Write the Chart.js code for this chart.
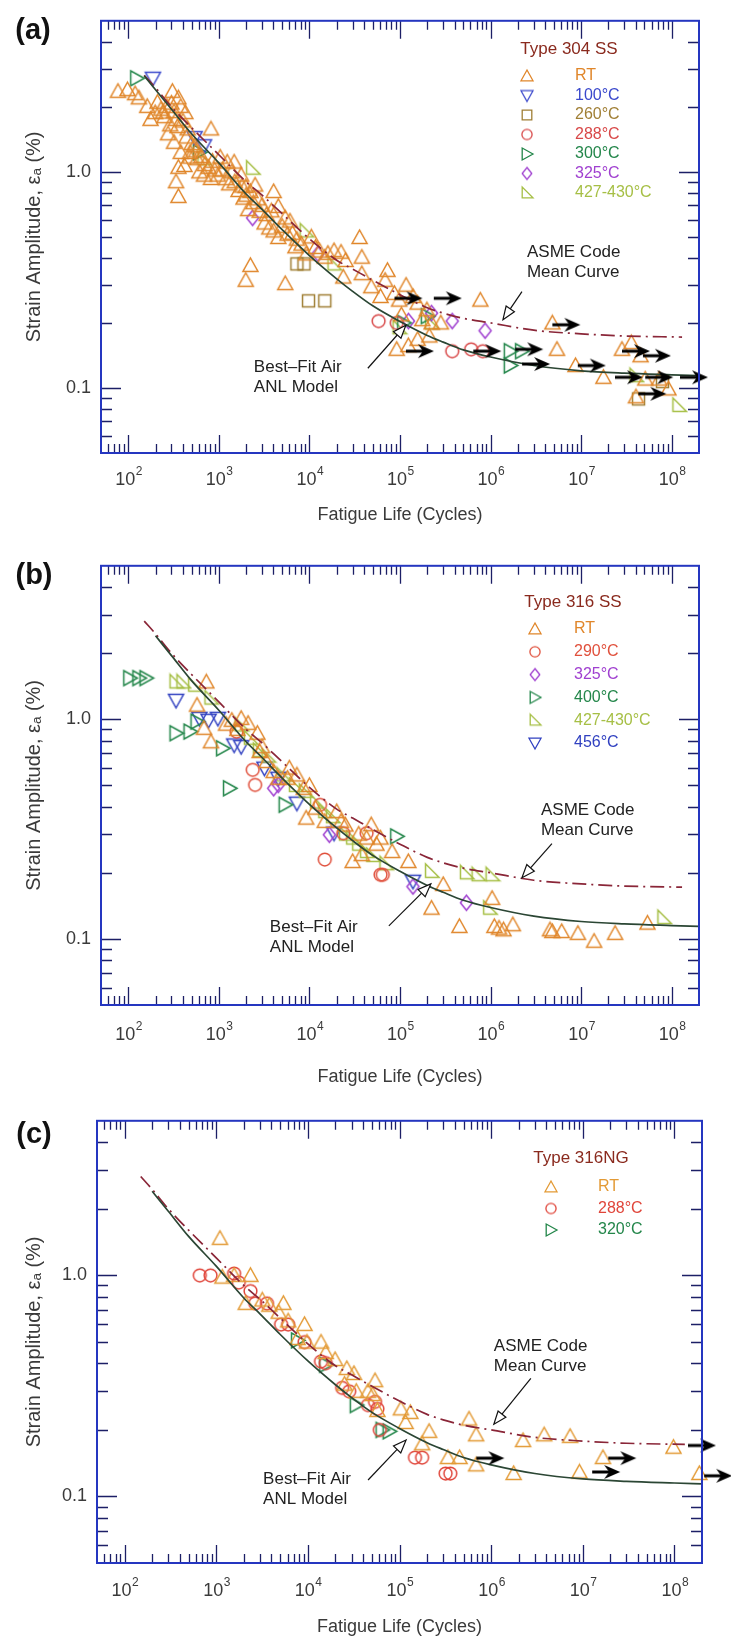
<!DOCTYPE html>
<html>
<head>
<meta charset="utf-8">
<title>Fatigue life of austenitic stainless steels</title>
<script src="https://cdn.jsdelivr.net/npm/chart.js@4.4.1/dist/chart.umd.min.js"></script>
<style>
  html, body { margin: 0; padding: 0; background: #fff; }
  body { position: relative; width: 731px; height: 1644px; overflow: hidden; }
  canvas { position: absolute; left: 0; }
</style>
</head>
<body>
<canvas id="panelA" width="731" height="535" style="top:0px"></canvas>
<canvas id="panelB" width="731" height="560" style="top:545px"></canvas>
<canvas id="panelC" width="731" height="544" style="top:1100px"></canvas>
<script>
// axes
const xRange = [50, 2e8];
const yRange = [0.05, 5];
const xTickValues = [1e2, 1e3, 1e4, 1e5, 1e6, 1e7, 1e8];
const xTickBase = '10';
const xTickPowers = ['2', '3', '4', '5', '6', '7', '8'];
const yTickValues = [0.1, 1];
const yTickLabels = ['0.1', '1.0'];

// curves [N, strain %]
const bestFitCurve = [[150,2.78],[200,2.4],[300,1.95],[500,1.5],[1000,1.1],[2000,0.79],[3000,0.67],[5000,0.54],[1e4,0.41],[2e4,0.32],[3e4,0.28],[5e4,0.24],[1e5,0.203],[2e5,0.175],[3e5,0.163],[5e5,0.15],[1e6,0.139],[3e6,0.127],[1e7,0.12],[3e7,0.117],[1e8,0.115],[2e8,0.114]];
const asmeMeanCurve = [[150,2.8],[200,2.45],[300,2.0],[500,1.6],[1000,1.2],[2000,0.9],[3000,0.78],[5000,0.64],[1e4,0.49],[2e4,0.39],[3e4,0.355],[5e4,0.315],[1e5,0.27],[2e5,0.235],[3e5,0.222],[5e5,0.21],[1e6,0.2],[3e6,0.185],[1e7,0.178],[3e7,0.174],[1.3e8,0.172]];

// (a) Type 304 SS
const a_RT = [[77,2.36],[98,2.40],[119,2.30],[131,2.20],[162,2.01],[198,1.88],[176,1.75],[242,1.89],[267,2.01],[300,2.08],[307,2.36],[358,2.20],[380,2.01],[427,1.88],[337,1.75],[402,1.72],[453,1.58],[275,1.50],[320,1.37],[380,1.23],[481,1.17],[417,1.07],[358,1.05],[481,1.23],[541,1.32],[574,1.15],[337,0.90],[358,0.77],[609,1.0],[685,0.966],[818,0.932],[977,0.966],[818,1.58],[771,1.05],[1036,1.17],[1237,1.11],[1392,1.0],[1476,1.11],[1762,0.966],[1983,0.855],[2232,0.811],[2512,0.869],[1870,0.756],[2102,0.669],[2826,0.657],[3373,0.634],[4027,0.811],[4529,0.692],[5408,0.612],[4027,0.533],[4529,0.497],[5741,0.515],[7278,0.488],[6095,0.592],[8185,0.463],[9204,0.417],[11660,0.447],[14770,0.403],[18700,0.432],[22340,0.425],[25100,0.389],[35800,0.497],[37930,0.403],[23660,0.326],[37930,0.338],[48100,0.294],[60950,0.265],[68500,0.315],[86800,0.274],[97700,0.255],[116700,0.299],[139300,0.265],[156700,0.247],[176300,0.207],[198300,0.230],[223200,0.200],[282400,0.200],[2232,0.369],[1983,0.315],[5408,0.304],[72750,0.350],[103600,0.218],[92000,0.151],[123700,0.157],[156700,0.168],[210400,0.174],[771000,0.255],[4.81e6,0.200],[5.41e6,0.151],[8.67e6,0.127],[1.76e7,0.112],[2.82e7,0.151],[3.58e7,0.162],[4.53e7,0.141],[5.1e7,0.110],[4.03e7,0.091],[7.27e7,0.110],[9.2e7,0.099],
  [210,2.1],[230,1.95],[250,1.8],[290,1.65],[320,1.9],[350,1.62],[440,1.45],[500,1.35],[560,1.25],[640,1.18],[700,1.08],[850,1.12],[900,1.02],[1100,1.02],[1200,0.93],[1300,0.88],[1500,0.9],[1650,0.82],[1800,0.86],[2000,0.78],[2400,0.72],[2700,0.75],[3000,0.7],[3200,0.58],[3600,0.55],[3800,0.66],[5000,0.56],[6500,0.52],[7000,0.45],[10500,0.5],[13000,0.43],[16000,0.42]];
const a_100C = [[187,2.71],[541,1.44],[685,1.32]];
const a_260C = [[9770,0.253],[14770,0.253],[7278,0.375],[8700,0.375],[4.3e7,0.089],[7.9e7,0.107]];
const a_288C = [[58000,0.204],[92000,0.200],[377000,0.148],[610000,0.151],[820000,0.148]];
const a_300C = [[124,2.71],[609,1.23],[110000,0.200],[200000,0.215],[1.65e6,0.148],[1.65e6,0.127],[2.2e6,0.148]];
const a_325C = [[2360,0.612],[12400,0.417],[124000,0.204],[223000,0.222],[377000,0.204],[870000,0.184]];
const a_427C = [[685,1.15],[2360,1.04],[9200,0.533],[18700,0.375],[97700,0.190],[223000,0.200],[4.03e7,0.114],[1.2e8,0.083]];
const a_runout = [[1.24e5,0.260],[3.37e5,0.260],[6.86e6,0.196],[1.66e5,0.148],[9.2e5,0.148],[2.67e6,0.151],[3.18e6,0.129],[1.31e7,0.127],[3.37e7,0.112],[7.27e7,0.112],[1.76e8,0.112],[4.03e7,0.148],[6.86e7,0.141],[6.1e7,0.094]];

// (b) Type 316 SS
const b_RT = [[728,1.48],[574,1.16],[685,0.91],[818,0.79],[1392,0.99],[1762,1.01],[2102,0.959],[2665,0.864],[2826,0.713],[3373,0.642],[4027,0.578],[4529,0.539],[5741,0.539],[7278,0.558],[8670,0.485],[9204,0.355],[11660,0.394],[14770,0.343],[22340,0.343],[30000,0.225],[37930,0.242],[42800,0.288],[48100,0.331],[61000,0.288],[81800,0.250],[123700,0.225],[223000,0.138],[300000,0.177],[453000,0.114],[1.04e6,0.153],[1.1e6,0.114],[1.24e6,0.112],[1.39e6,0.110],[1.76e6,0.116],[4.53e6,0.110],[4.81e6,0.108],[6.1e6,0.108],[9.2e6,0.106],[1.39e7,0.0976],[2.37e7,0.106],[5.4e7,0.118],
  [1200,0.95],[1600,0.9],[3000,0.75],[6000,0.6],[10000,0.5],[20000,0.38],[25000,0.33],[35000,0.3],[55000,0.27]];
const b_290C = [[1567,0.879],[2366,0.589],[2512,0.503],[13100,0.408],[14770,0.230],[23660,0.303],[42800,0.303],[61000,0.196],[64600,0.196]];
const b_325C = [[4027,0.485],[4529,0.503],[16600,0.298],[139000,0.173],[541000,0.146]];
const b_400C = [[104,1.54],[131,1.54],[157,1.54],[337,0.864],[481,0.879],[574,0.976],[1100,0.738],[1312,0.485],[5400,0.408],[92000,0.293]];
const b_427C = [[337,1.48],[402,1.48],[541,1.43],[818,1.25],[1762,0.942],[2232,0.82],[5100,0.558],[14770,0.380],[30000,0.288],[42800,0.250],[223000,0.203],[541000,0.200],[728000,0.196],[1.04e6,0.196],[977000,0.138],[8.2e7,0.125],
  [2800,0.72],[3500,0.68],[7000,0.5],[9000,0.47],[12000,0.42],[18000,0.36],[25000,0.3],[35000,0.27],[50000,0.24],[70000,0.22]];
const b_456C = [[337,1.22],[609,1.01],[771,0.99],[977,1.01],[1476,0.764],[1762,0.751],[3183,0.599],[4529,0.539],[7278,0.415],[18700,0.303],[139000,0.183]];

// (c) Type 316NG
const c_RT = [[1099,1.47],[1166,0.982],[1567,1.0],[2366,1.0],[2102,0.747],[3183,0.774],[3795,0.733],[4808,0.681],[5408,0.747],[6095,0.622],[9204,0.6],[7712,0.518],[9772,0.499],[13930,0.499],[15670,0.448],[19830,0.416],[26650,0.379],[31830,0.36],[25120,0.322],[33750,0.299],[45300,0.299],[54100,0.334],[51030,0.289],[57400,0.245],[103600,0.249],[131300,0.240],[116700,0.216],[210400,0.197],[176300,0.173],[337300,0.150],[452600,0.150],[573800,0.224],[685000,0.19],[685000,0.139],[1.76e6,0.127],[2.23e6,0.179],[3.79e6,0.19],[7.27e6,0.187],[9.2e6,0.129],[1.66e7,0.150],[9.77e7,0.167],[1.87e8,0.127]];
const c_288C = [[662,1.0],[867,1.0],[1567,1.02],[1762,0.929],[2366,0.849],[2665,0.747],[3581,0.747],[5100,0.6],[6095,0.6],[9204,0.499],[13930,0.408],[15670,0.401],[23660,0.31],[28250,0.299],[45300,0.259],[54100,0.268],[57400,0.249],[60950,0.2],[147600,0.150],[176300,0.150],[318400,0.127],[358000,0.127]];
const c_320C = [[7712,0.508],[15670,0.394],[33750,0.259],[64600,0.2],[77100,0.197]];
const c_runout = [[9.8e5,0.149],[2.7e7,0.149],[1.8e7,0.129],[2e8,0.170],[3e8,0.124]];

const FONT = '"Liberation Sans", Arial, sans-serif';
const TEXT = '#3a3a3a';
Chart.defaults.font.family = FONT;
Chart.defaults.color = TEXT;

// hollow marker sprites
function marker(shape, color, s, lw) {
  const c = document.createElement('canvas');
  const arrow = shape === 'arrow';
  c.width = arrow ? 30 : s + 4;
  c.height = arrow ? 16 : s + 4;
  const g = c.getContext('2d');
  const cx = c.width / 2, cy = c.height / 2, r = s / 2;
  g.strokeStyle = color; g.fillStyle = color; g.lineWidth = lw || 1.5;
  g.beginPath();
  if (shape === 'tri') { g.moveTo(cx, cy - r); g.lineTo(cx + r, cy + r * 0.8); g.lineTo(cx - r, cy + r * 0.8); g.closePath(); }
  else if (shape === 'triDown') { g.moveTo(cx, cy + r); g.lineTo(cx + r, cy - r * 0.8); g.lineTo(cx - r, cy - r * 0.8); g.closePath(); }
  else if (shape === 'triRight') { g.moveTo(cx + r, cy); g.lineTo(cx - r * 0.8, cy - r); g.lineTo(cx - r * 0.8, cy + r); g.closePath(); }
  else if (shape === 'corner') { g.moveTo(cx - r * 0.8, cy - r); g.lineTo(cx - r * 0.8, cy + r * 0.8); g.lineTo(cx + r, cy + r * 0.8); g.closePath(); }
  else if (shape === 'circle') { g.arc(cx, cy, r * 0.85, 0, Math.PI * 2); }
  else if (shape === 'square') { g.rect(cx - r * 0.8, cy - r * 0.8, r * 1.6, r * 1.6); }
  else if (shape === 'diamond') { g.moveTo(cx, cy - r); g.lineTo(cx + r * 0.8, cy); g.lineTo(cx, cy + r); g.lineTo(cx - r * 0.8, cy); g.closePath(); }
  if (arrow) {
    g.lineWidth = 3; g.moveTo(1, cy); g.lineTo(18, cy); g.stroke();
    g.beginPath(); g.moveTo(29, cy); g.lineTo(13, 1); g.lineTo(18, cy); g.lineTo(13, 15); g.closePath(); g.fill();
  } else {
    g.stroke();
  }
  return c;
}
const ARROW = marker('arrow', '#000', 0);

const decor = {
  id: 'decor',
  afterDatasetsDraw(chart, args, opt) {
    const { ctx, chartArea: a } = chart;
    const sx = chart.scales.x, sy = chart.scales.y;
    ctx.save();
    ctx.strokeStyle = '#1c1f66'; ctx.lineWidth = 1.3;
    ctx.beginPath();
    for (let e = 1; e <= 8; e++) for (let k = 1; k <= 9; k++) {
      const v = k * Math.pow(10, e);
      if (v <= xRange[0] * 1.001 || v >= xRange[1] * 0.999) continue;
      const p = Math.round(sx.getPixelForValue(v)) + 0.5;
      const len = k === 1 ? 18 : 9;
      ctx.moveTo(p, a.bottom); ctx.lineTo(p, a.bottom - len);
      ctx.moveTo(p, a.top); ctx.lineTo(p, a.top + len);
    }
    for (let e = -2; e <= 0; e++) for (let k = 1; k <= 9; k++) {
      const v = k * Math.pow(10, e);
      if (v <= yRange[0] * 1.001 || v >= yRange[1] * 0.999) continue;
      const p = Math.round(sy.getPixelForValue(v)) + 0.5;
      const len = k === 1 ? 20 : 11;
      ctx.moveTo(a.left, p); ctx.lineTo(a.left + len, p);
      ctx.moveTo(a.right, p); ctx.lineTo(a.right - len, p);
    }
    ctx.stroke();
    ctx.strokeStyle = '#2536c0'; ctx.lineWidth = 2;
    ctx.strokeRect(a.left, a.top, a.right - a.left, a.bottom - a.top);

    // exponents next to the "10" tick labels
    ctx.fillStyle = TEXT; ctx.font = '12px ' + FONT;
    ctx.textAlign = 'left'; ctx.textBaseline = 'middle';
    const labelMid = a.bottom + opt.tickPad + 10.8;
    xTickValues.forEach((v, i) => {
      ctx.fillText(xTickPowers[i], sx.getPixelForValue(v) + 7.5, labelMid - 8);
    });

    // panel letter
    ctx.fillStyle = '#111'; ctx.font = 'bold 29px ' + FONT;
    ctx.textAlign = 'center';
    ctx.fillText(opt.letter[0], opt.letter[1], opt.letter[2]);

    // legend
    const L = opt.legend;
    ctx.font = '17px ' + FONT; ctx.fillStyle = '#8a2a1e';
    ctx.fillText(L.title, L.titleX, L.titleY);
    ctx.textAlign = 'left'; ctx.font = '16px ' + FONT;
    opt.series.forEach((s, i) => {
      const yy = L.rowY + i * L.rowGap;
      ctx.drawImage(s.key, L.markX - s.key.width / 2, yy - s.key.height / 2);
      ctx.fillStyle = s.color;
      ctx.fillText(s.name, L.textX, yy);
    });

    // callouts
    ctx.font = '17px ' + FONT;
    opt.notes.forEach(n => {
      const tx = sx.getPixelForValue(n.at[0]), ty = sy.getPixelForValue(n.at[1]);
      const fx = tx + n.tail[0], fy = ty + n.tail[1];
      const ang = Math.atan2(ty - fy, tx - fx);
      const hl = 13, hw = 5;
      const bx = tx - Math.cos(ang) * hl, by = ty - Math.sin(ang) * hl;
      ctx.strokeStyle = '#111'; ctx.lineWidth = 1.2;
      ctx.beginPath(); ctx.moveTo(fx, fy); ctx.lineTo(bx, by); ctx.stroke();
      ctx.beginPath(); ctx.moveTo(tx, ty);
      ctx.lineTo(bx + Math.sin(ang) * hw, by - Math.cos(ang) * hw);
      ctx.lineTo(bx - Math.sin(ang) * hw, by + Math.cos(ang) * hw);
      ctx.closePath(); ctx.fillStyle = '#fff'; ctx.fill(); ctx.stroke();
      ctx.fillStyle = '#222';
      n.lines.forEach((t, j) => ctx.fillText(t, tx + n.text[0], ty + n.text[1] + j * 20));
    });
    ctx.restore();
  }
};

const xy = arr => arr.map(([x, y]) => ({ x, y }));

function buildPanel(id, P) {
  const series = P.series.map(s => ({ ...s, img: marker(s.shape, s.color, 15), key: marker(s.shape, s.color, 12, 1.3) }));
  const datasets = [];
  if (P.runout) datasets.push({ data: xy(P.runout), pointStyle: ARROW, pointRadius: 30, clip: false });
  datasets.push({ data: xy(P.fit), showLine: true, borderColor: '#2b4634', borderWidth: 1.7,
    pointRadius: 0, cubicInterpolationMode: 'monotone', clip: false });
  datasets.push({ data: xy(P.asme), showLine: true, borderColor: '#8a2638', borderWidth: 1.7,
    borderDash: [14, 5, 2, 5], pointRadius: 0, cubicInterpolationMode: 'monotone' });
  series.forEach(s => datasets.push({ label: s.name, data: xy(s.data), pointStyle: s.img, pointRadius: 8, clip: false }));

  new Chart(document.getElementById(id), {
    type: 'scatter',
    data: { datasets },
    options: {
      responsive: false,
      animation: false,
      events: [],
      layout: { autoPadding: false, padding: { top: P.plotTop, right: 731 - P.plotRight, left: 0, bottom: 0 } },
      plugins: {
        legend: { display: false },
        tooltip: { enabled: false },
        decor: { letter: P.letter, legend: P.legend, series, notes: P.notes, tickPad: P.tickPad }
      },
      scales: {
        x: {
          type: 'logarithmic', min: xRange[0], max: xRange[1],
          afterBuildTicks: s => { s.ticks = xTickValues.map(v => ({ value: v })); },
          afterFit: s => { s.height = P.xAxisH; },
          ticks: { callback: () => xTickBase, font: { size: 18 }, color: TEXT, padding: P.tickPad,
            labelOffset: -3, maxRotation: 0, minRotation: 0, autoSkip: false },
          grid: { display: false, drawTicks: false },
          border: { display: false },
          title: { display: true, text: 'Fatigue Life (Cycles)', font: { size: 18 }, color: TEXT,
            padding: { top: 0, bottom: P.titlePad } }
        },
        y: {
          type: 'logarithmic', min: yRange[0], max: yRange[1],
          afterBuildTicks: s => { s.ticks = yTickValues.map(v => ({ value: v })); },
          afterFit: s => { s.width = P.plotLeft; },
          ticks: { callback: (v, i) => yTickLabels[i], font: { size: 18 }, color: TEXT, padding: 10, autoSkip: false },
          grid: { display: false, drawTicks: false },
          border: { display: false },
          title: { display: true, text: 'Strain Amplitude, εₐ (%)', font: { size: 20 }, color: TEXT,
            padding: { top: 22, bottom: 0 } }
        }
      }
    },
    plugins: [decor]
  });
}

buildPanel('panelA', {
  plotTop: 13, plotLeft: 101, plotRight: 699, xAxisH: 82, titlePad: 9, tickPad: 16,
  letter: ['(a)', 33, 31],
  legend: { title: 'Type 304 SS', titleX: 569, titleY: 49, markX: 527, textX: 575, rowY: 76, rowGap: 19.5 },
  fit: bestFitCurve, asme: asmeMeanCurve, runout: a_runout,
  series: [
    { name: 'RT', data: a_RT, shape: 'tri', color: '#e0862a' },
    { name: '100°C', data: a_100C, shape: 'triDown', color: '#3a48cc' },
    { name: '260°C', data: a_260C, shape: 'square', color: '#a07f35' },
    { name: '288°C', data: a_288C, shape: 'circle', color: '#d84848' },
    { name: '300°C', data: a_300C, shape: 'triRight', color: '#23864a' },
    { name: '325°C', data: a_325C, shape: 'diamond', color: '#a040d0' },
    { name: '427-430°C', data: a_427C, shape: 'corner', color: '#a6bf45' }
  ],
  notes: [
    { at: [1.37e6, 0.207], tail: [19, -28], text: [24, -67], lines: ['ASME Code', 'Mean Curve'] },
    { at: [1.16e5, 0.195], tail: [-38, 43], text: [-152, 42], lines: ['Best\u2013Fit Air', 'ANL Model'] }
  ]
});

buildPanel('panelB', {
  plotTop: 18, plotLeft: 101, plotRight: 699, xAxisH: 100, titlePad: 17, tickPad: 19,
  letter: ['(b)', 34, 31],
  legend: { title: 'Type 316 SS', titleX: 573, titleY: 57, markX: 535, textX: 574, rowY: 84, rowGap: 22.8 },
  fit: bestFitCurve.slice(1), asme: asmeMeanCurve,
  series: [
    { name: 'RT', data: b_RT, shape: 'tri', color: '#e0862a' },
    { name: '290°C', data: b_290C, shape: 'circle', color: '#e0503c' },
    { name: '325°C', data: b_325C, shape: 'diamond', color: '#a040d0' },
    { name: '400°C', data: b_400C, shape: 'triRight', color: '#23864a' },
    { name: '427-430°C', data: b_427C, shape: 'corner', color: '#a6bf45' },
    { name: '456°C', data: b_456C, shape: 'triDown', color: '#3040c0' }
  ],
  notes: [
    { at: [2.22e6, 0.19], tail: [30, -34], text: [19, -67], lines: ['ASME Code', 'Mean Curve'] },
    { at: [2.19e5, 0.178], tail: [-42, 42], text: [-161, 43], lines: ['Best\u2013Fit Air', 'ANL Model'] }
  ]
});

buildPanel('panelC', {
  plotTop: 20, plotLeft: 97, plotRight: 702, xAxisH: 81, titlePad: 6, tickPad: 17,
  letter: ['(c)', 34, 35],
  legend: { title: 'Type 316NG', titleX: 581, titleY: 58, markX: 551, textX: 598, rowY: 87, rowGap: 21.5 },
  fit: bestFitCurve.slice(1), asme: asmeMeanCurve, runout: c_runout,
  series: [
    { name: 'RT', data: c_RT, shape: 'tri', color: '#e39a35' },
    { name: '288°C', data: c_288C, shape: 'circle', color: '#e0453a' },
    { name: '320°C', data: c_320C, shape: 'triRight', color: '#23864a' }
  ],
  notes: [
    { at: [1.07e6, 0.212], tail: [37, -46], text: [0, -78], lines: ['ASME Code', 'Mean Curve'] },
    { at: [1.18e5, 0.18], tail: [-38, 40], text: [-143, 39], lines: ['Best\u2013Fit Air', 'ANL Model'] }
  ]
});
</script>
</body>
</html>
